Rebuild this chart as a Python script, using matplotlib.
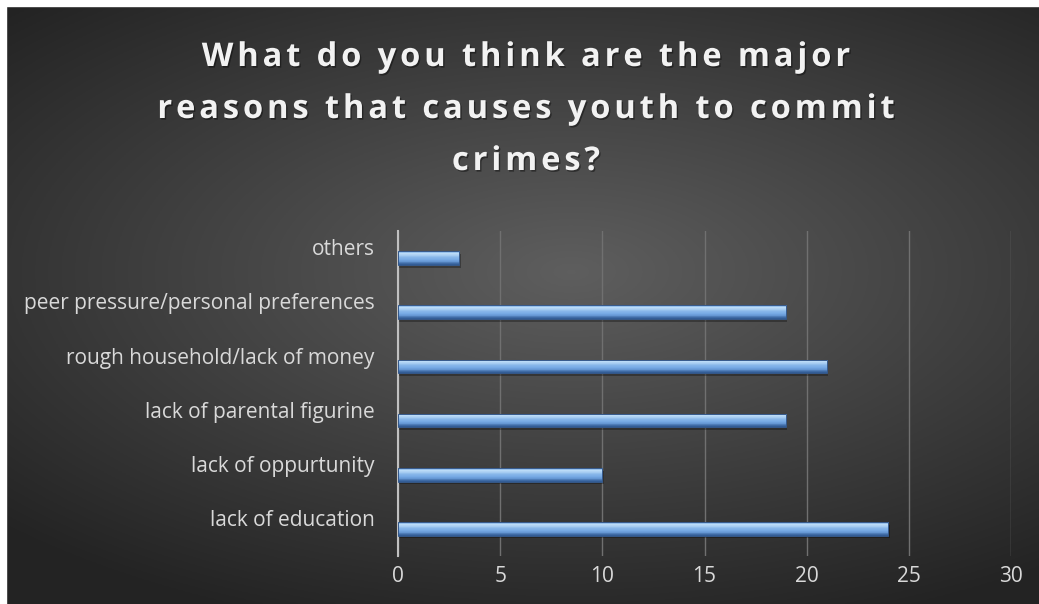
import numpy as np
import matplotlib.pyplot as plt
import matplotlib.patheffects as pe
from matplotlib.patches import Rectangle
from matplotlib.colors import LinearSegmentedColormap
from matplotlib.font_manager import FontProperties, findfont
from matplotlib.ft2font import FT2Font

# --- Survey responses ---
categories = [
    'lack of education',
    'lack of oppurtunity',
    'lack of parental figurine',
    'rough household/lack of money',
    'peer pressure/personal preferences',
    'others',
]
counts = [24, 10, 19, 21, 19, 3]
x_ticks = [0, 5, 10, 15, 20, 25, 30]

TITLE_LINES = [
    'What do you think are the major',
    'reasons that causes youth to commit',
    'crimes?',
]
FONT = 'Open Sans'
W, H, DPI = 1039, 604, 100


def spaced_text(fig, s, cx, base_y, size, spacing, **kw):
    """Draw a line of text centred on cx (pixels) with extra letter spacing."""
    path = findfont(FontProperties(family=FONT, weight='bold'))
    ft = FT2Font(path)
    ft.set_size(size, DPI)
    adv = [ft.load_char(ord(c)).linearHoriAdvance / 65536 for c in s]
    total = sum(adv) + spacing * (len(s) - 1)
    x = cx - total / 2
    for c, a in zip(s, adv):
        if c != ' ':
            fig.text(x / W, 1 - base_y / H, c, ha='left', va='baseline',
                     fontsize=size, family=FONT, **kw)
        x += a + spacing


def main():
    fig = plt.figure(figsize=(W / DPI, H / DPI), dpi=DPI)
    fig.patch.set_facecolor('#2a2a2a')

    # dark radial background, lighter toward the middle
    bg = fig.add_axes([0, 0, 1, 1])
    yy, xx = np.mgrid[-1:1:300j, -1:1:520j]
    r = np.sqrt(((xx - 0.1) * 0.9) ** 2 + ((yy + 0.1) * 1.1) ** 2)
    shade = np.clip(0.37 - 0.17 * r, 0.14, 0.37)
    bg.imshow(np.dstack([shade] * 3), aspect='auto', extent=[0, 1, 0, 1])
    bg.set_xlim(0, 1)
    bg.set_ylim(0, 1)
    bg.set_axis_off()
    # white frame on the top and left edges
    bg.add_patch(Rectangle((0, 0), 6 / W, 1, color='white', zorder=5))
    bg.add_patch(Rectangle((0, 1 - 6 / H), 1, 6 / H, color='white', zorder=5))

    ax = fig.add_axes([398 / W, 1 - 556 / H, (1011 - 398) / W, (556 - 231) / H])
    ax.set_facecolor('none')

    y = np.arange(len(categories))
    h = 0.25

    # soft shadow under each bar
    ax.barh(y - 0.05, counts, height=h, left=0.06, color='black', alpha=0.3, zorder=2)
    bars = ax.barh(y, counts, height=h, color='#74a8e4', zorder=3)

    # bevelled gradient fill, lit from the top
    grad = np.array([0.0, 0.22, 0.42, 0.52, 0.6, 0.72, 0.9, 1.0, 0.55]).reshape(-1, 1)
    cmap = LinearSegmentedColormap.from_list('bevel', ['#335d96', '#74a8e4', '#bcdcf8'])
    for b in bars:
        x0, y0 = b.get_x(), b.get_y()
        w, bh = b.get_width(), b.get_height()
        im = ax.imshow(grad, cmap=cmap, vmin=0, vmax=1, aspect='auto',
                       extent=[x0, x0 + w, y0, y0 + bh], zorder=4, origin='lower')
        im.set_clip_path(Rectangle((x0, y0), w, bh, transform=ax.transData))
        ax.add_patch(Rectangle((x0, y0), w, bh, fill=False, edgecolor='#36598a',
                               linewidth=0.7, zorder=5))

    ax.set_xlim(0, 30)
    ax.set_ylim(-0.5, len(categories) - 0.5)
    ax.set_xticks(x_ticks)
    ax.xaxis.grid(True, color='#707070', linewidth=1)
    ax.set_axisbelow(True)

    # category labels sit slightly above their bars
    ax.set_yticks(y + 0.2)
    ax.set_yticklabels(categories)

    ax.tick_params(axis='both', length=0, colors='#d9d9d9', labelsize=15)
    ax.tick_params(axis='y', pad=17)
    ax.tick_params(axis='x', pad=7)
    for lbl in ax.get_xticklabels() + ax.get_yticklabels():
        lbl.set_fontfamily(FONT)

    for side in ['top', 'right', 'bottom']:
        ax.spines[side].set_visible(False)
    ax.spines['left'].set_color('#c0c0c0')
    ax.spines['left'].set_linewidth(1.5)

    shadow = [pe.withSimplePatchShadow(offset=(1, -1.2), shadow_rgbFace='black', alpha=0.4)]
    for i, line in enumerate(TITLE_LINES):
        spaced_text(fig, line, 526, 66 + 52 * i, 23.5, 3.9, color='#f2f2f2',
                    fontweight='bold', path_effects=shadow)

    fig.savefig('out.png', dpi=DPI)


if __name__ == '__main__':
    main()
